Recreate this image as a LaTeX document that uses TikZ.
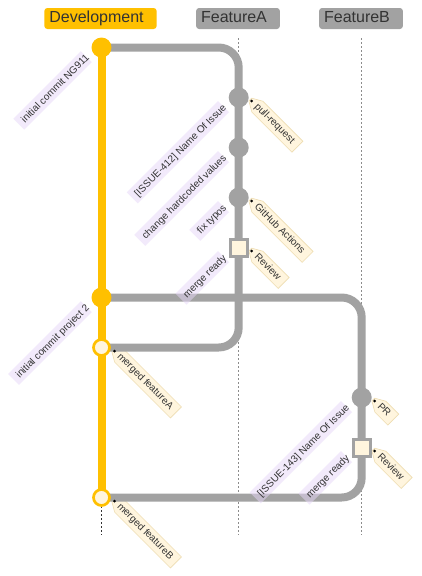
\documentclass[tikz,border=0pt]{standalone}
\usepackage{fontspec}
\setmainfont{Liberation Sans}
\usetikzlibrary{calc}
\pgfdeclarelayer{background}
\pgfsetlayers{background,main}
\definecolor{devc}{HTML}{FFC000}
\definecolor{grayc}{HTML}{A2A2A2}
\definecolor{cream}{HTML}{FFF5DE}
\definecolor{tagborder}{HTML}{EEDDB2}
\definecolor{lblfill}{HTML}{E6D6F8}
\definecolor{txtc}{HTML}{333333}
\definecolor{lanec}{HTML}{8C8C8C}
\newcommand\gittag[3]{%
  \node[tagt] (#1) at ($(#2.center)+(17.1,7.6)$) {#3};
  \coordinate (#1tip) at ($(#1.west)!-7.8pt!(#1.east)$);
  \coordinate (#1bw) at ($(#1.west)!2.2pt!(#1.east)$);
  \coordinate (#1be) at ($(#1.east)!-6.2pt!(#1.west)$);
  \begin{pgfonlayer}{background}
    \filldraw[tagbody] ($(#1tip)!2pt!-90:(#1.east)$) -- ($(#1tip)!2pt!90:(#1.east)$) -- ($(#1bw)!7.75pt!90:(#1.east)$) -- ($(#1be)!7.75pt!-90:(#1.west)$) -- ($(#1be)!7.75pt!90:(#1.west)$) -- ($(#1bw)!7.75pt!-90:(#1.east)$) -- cycle;
  \end{pgfonlayer}
  \fill[black] ($(#1tip)!2pt!(#1.east)$) circle[radius=1.5];
}
\newcommand\gitlabel[3]{%
  \node[clabel] (#1) at ($(#2.center)+(-15,9)$) {\hspace*{3pt}#3\hspace*{-3pt}};
}
\newcommand\brtext[1]{\hspace*{-4pt}#1\hspace*{4pt}}
\begin{document}
\begin{tikzpicture}[x=1pt,y=-1pt,
  blabel/.style={rounded corners=3pt, minimum height=21pt, inner xsep=9pt, inner ysep=0pt, text=txtc, font=\fontsize{16}{19}\selectfont, text height=11.6pt, text depth=3.4pt},
  commitc/.style={circle, fill=#1, minimum size=20pt, inner sep=0pt},
  mergec/.style={circle, fill=cream, draw=devc, line width=2.7pt, minimum size=16pt, inner sep=0pt},
  hlc/.style={rectangle, fill=cream, draw=grayc, line width=3pt, minimum size=17pt, inner sep=0pt},
  branchln/.style={line width=8pt, rounded corners=20pt},
  lane/.style={line width=1pt, dash pattern=on 2pt off 2pt},
  clabel/.style={fill=lblfill, fill opacity=0.5, text opacity=1, text=txtc, font=\fontsize{10}{12}\selectfont, inner xsep=2pt, inner ysep=2.5pt, text height=9pt, text depth=1.5pt, rotate=45, anchor=east},
  tagt/.style={font=\fontsize{10}{12}\selectfont, text=txtc, inner xsep=0pt, inner ysep=0pt, text height=7.2pt, text depth=2pt, rotate=-45, anchor=west},
  tagbody/.style={fill=cream, draw=tagborder, line width=0.6pt}]
\begin{pgfonlayer}{background}
  \fill[white] (0,0) rectangle (421,576);
\end{pgfonlayer}
\useasboundingbox (0,0) rectangle (421,576);
% branch labels
\node[blabel, fill=devc] (bdev) at (100.5,18.5) {\brtext{Development}};
\node[blabel, fill=grayc] (bfa) at (238,18.5) {\brtext{FeatureA}};
\node[blabel, fill=grayc] (bfb) at (361,18.5) {\brtext{FeatureB}};
% lanes
\coordinate (ld0) at (101.5,38); \coordinate (ld1) at (101.5,535);
\coordinate (la0) at (238.7,38); \coordinate (la1) at (238.7,535);
\coordinate (lb0) at (361.7,38); \coordinate (lb1) at (361.7,535);
\draw[lane, draw=txtc] (ld0) -- (ld1);
\draw[lane, draw=lanec] (la0) -- (la1);
\draw[lane, draw=lanec] (lb0) -- (lb1);
% commit positions
\coordinate (d1) at (101.5,47.5);
\coordinate (a1) at (238.7,97.5);
\coordinate (a2) at (238.7,147.5);
\coordinate (a3) at (238.7,197.5);
\coordinate (a4) at (238.7,247.5);
\coordinate (d2) at (101.5,297.5);
\coordinate (m1) at (101.5,347.5);
\coordinate (b1) at (361.7,397.5);
\coordinate (b2) at (361.7,447.5);
\coordinate (m2) at (101.5,497.5);
% branch lines
\draw[branchln, grayc] (d1) -| (a1) -- (a2) -- (a3) -- (a4) |- (m1);
\draw[branchln, grayc] (d2) -| (b1) -- (b2) |- (m2);
\draw[branchln, devc] (d1) -- (d2) -- (m1) -- (m2);
% commits
\node[commitc=devc] (cd1) at (d1) {};
\node[commitc=grayc] (ca1) at (a1) {};
\node[commitc=grayc] (ca2) at (a2) {};
\node[commitc=grayc] (ca3) at (a3) {};
\node[hlc] (ca4) at (a4) {};
\node[commitc=devc] (cd2) at (d2) {};
\node[mergec] (cm1) at (m1) {};
\node[commitc=grayc] (cb1) at (b1) {};
\node[hlc] (cb2) at (b2) {};
\node[mergec] (cm2) at (m2) {};
% commit labels
\gitlabel{l1}{d1}{initial commit NG911}
\gitlabel{l2}{a1}{[ISSUE-412] Name Of Issue}
\gitlabel{l3}{a2}{change hardcoded values}
\gitlabel{l4}{a3}{fix typos}
\gitlabel{l5}{a4}{merge ready}
\gitlabel{l6}{d2}{initial commit project 2}
\gitlabel{l7}{b1}{[ISSUE-143] Name Of Issue}
\gitlabel{l8}{b2}{merge ready}
% tags
\gittag{t1}{a1}{pull-request}
\gittag{t2}{a3}{GitHub Actions}
\gittag{t3}{a4}{Review}
\gittag{t4}{m1}{merged featureA}
\gittag{t5}{b1}{PR}
\gittag{t6}{b2}{Review}
\gittag{t7}{m2}{merged featureB}
\end{tikzpicture}
\end{document}
